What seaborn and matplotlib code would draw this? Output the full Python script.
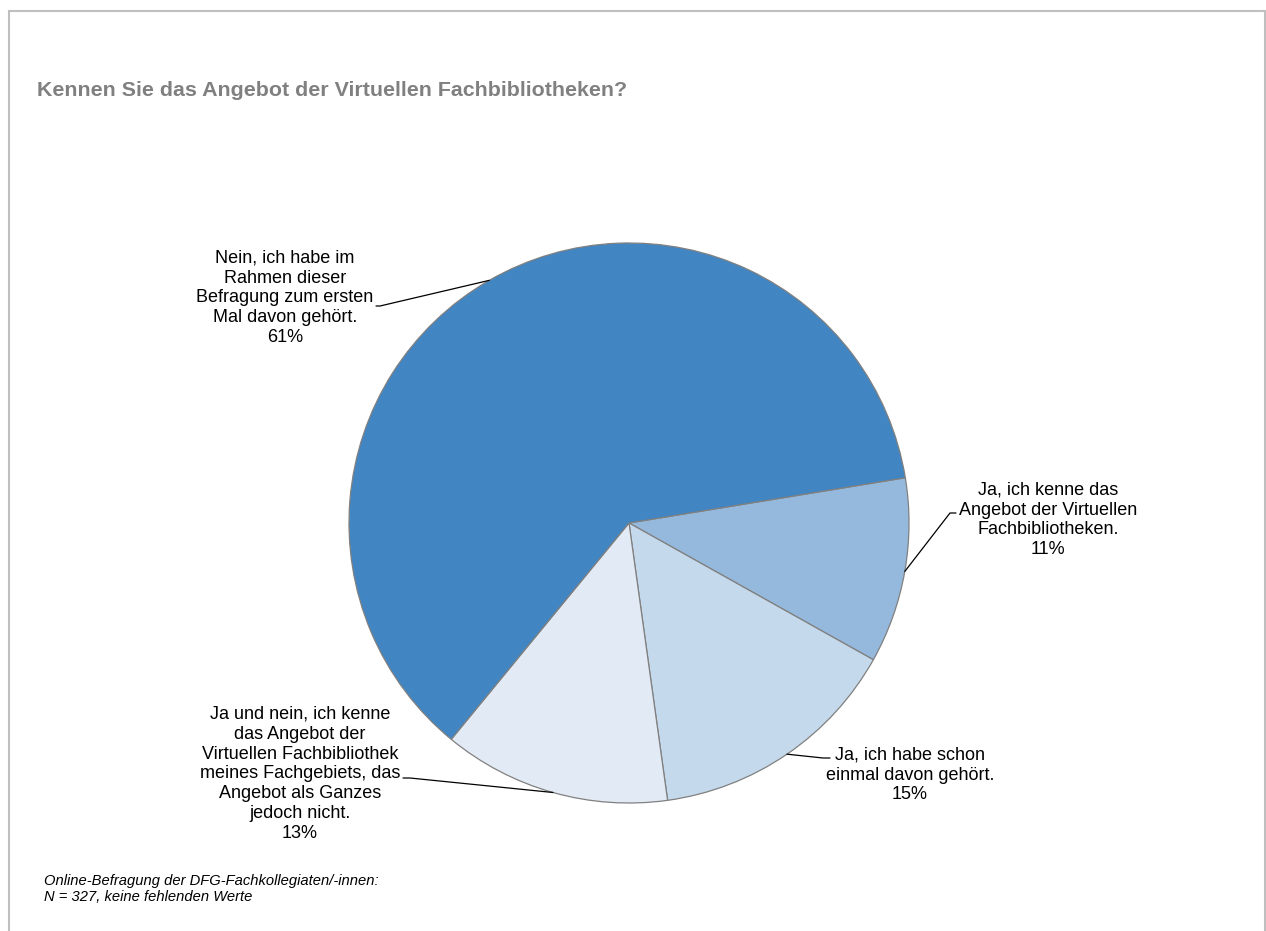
import numpy as np
import seaborn as sns
import matplotlib.pyplot as plt
from matplotlib.patches import Rectangle

# data (Online-Befragung, N = 327)
categories = [
    "Ja, ich kenne das\nAngebot der Virtuellen\nFachbibliotheken.",
    "Ja, ich habe schon\neinmal davon gehört.",
    "Ja und nein, ich kenne\ndas Angebot der\nVirtuellen Fachbibliothek\nmeines Fachgebiets, das\nAngebot als Ganzes\njedoch nicht.",
    "Nein, ich habe im\nRahmen dieser\nBefragung zum ersten\nMal davon gehört.",
]
counts = [35, 48, 43, 201]
colors = ["#95B9DC", "#C5D9EC", "#E2EBF5", "#4185C2"]

title = "Kennen Sie das Angebot der Virtuellen Fachbibliotheken?"
note = "Online-Befragung der DFG-Fachkollegiaten/-innen:\nN = 327, keine fehlenden Werte"

sns.set_theme(style="white")
plt.rcParams["font.family"] = ["Liberation Sans", "DejaVu Sans"]

W, H = 1266, 931
fig = plt.figure(figsize=(W / 100, H / 100), dpi=100)
ax = fig.add_axes([0, 0, 1, 1])

cx, cy, r = 629, H - 523, 280
wedges, _ = ax.pie(
    counts,
    colors=colors,
    startangle=9.3,
    counterclock=False,
    center=(cx, cy),
    radius=r,
    frame=True,
    wedgeprops=dict(edgecolor="#808080", linewidth=0.9),
)
ax.set_xlim(0, W)
ax.set_ylim(0, H)
ax.axis("off")

total = sum(counts)
# label centre, elbow point, text-side end of leader (pixel coords, y from top)
label_pos = [(1048, 520), (910, 775), (300, 774), (285, 298)]
elbows = [((950, 513), (956, 513)), ((823, 758), (830, 758)),
          ((410, 778), (403, 778)), ((380, 306), (376, 306))]

for w, cat, n, (lx, ly), (e1, e2) in zip(wedges, categories, counts, label_pos, elbows):
    mid = np.deg2rad((w.theta1 + w.theta2) / 2)
    px, py = cx + r * np.cos(mid), cy + r * np.sin(mid)
    ax.plot([px, e1[0], e2[0]], [py, H - e1[1], H - e2[1]], color="black", lw=0.9)
    ax.text(lx, H - ly, f"{cat}\n{round(100 * n / total)}%", ha="center", va="center",
            fontsize=13, color="black", linespacing=1.22)

fig.text(37 / W, 1 - 90 / H, title, fontsize=15.4, fontweight="bold", color="#808080",
         ha="left", va="center")
fig.text(44 / W, 1 - 889 / H, note, fontsize=10.6, style="italic", color="black",
         ha="left", va="center", linespacing=1.2)

fig.patches.append(Rectangle((9 / W, -0.1), (1265 - 9) / W, 1.1 - 11 / H,
                             transform=fig.transFigure, fill=False,
                             edgecolor="#BFBFBF", linewidth=1.5))

plt.savefig("out.png", dpi=100)
